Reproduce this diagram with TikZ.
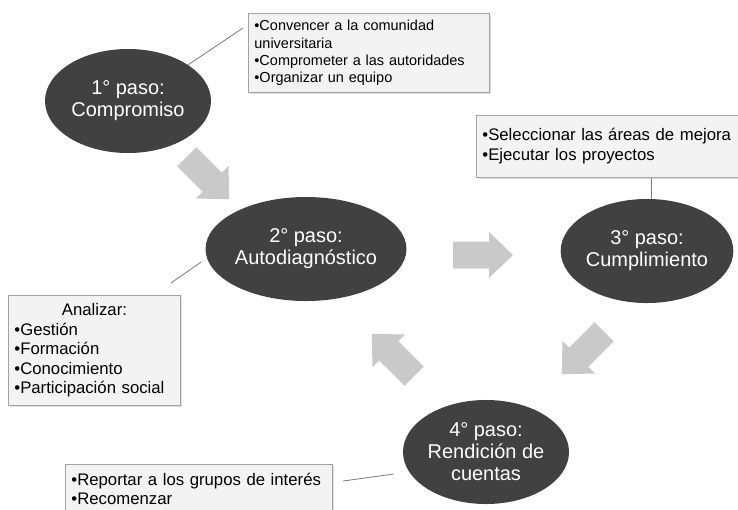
\documentclass[tikz,border=0pt]{standalone}
\usepackage{fontspec}
\setmainfont{Liberation Sans}
\usepackage{tikz}
\usetikzlibrary{positioning}
\usetikzlibrary{shapes.geometric}
\usetikzlibrary{calc}
\usetikzlibrary{shadows}
\usepackage{xcolor}

\definecolor{pasogray}{HTML}{414141}
\definecolor{flechagray}{HTML}{C9C9C9}
\definecolor{notafill}{HTML}{F3F3F3}
\definecolor{notaline}{HTML}{A3A3A3}
\definecolor{linkgray}{HTML}{7F7F7F}

\tikzset{
    paso/.style={ellipse, fill=pasogray, text=white, align=center, inner sep=0pt,
        minimum width=4.15cm, minimum height=2.6cm,
        font=\fontsize{14.2}{15.6}\selectfont},
    nota/.style={rectangle, draw=notaline, fill=notafill, anchor=north west,
        align=left, inner xsep=0.15cm, inner ysep=0.1cm, line width=0.6pt,
        drop shadow={shadow xshift=1pt, shadow yshift=-1pt, opacity=0.25}},
    link/.style={draw=linkgray, line width=0.6pt}
}

\begin{document}
\begin{tikzpicture}[x=0.025cm, y=-0.025cm]
    \useasboundingbox (0,0) rectangle (738,509);

    % pasos
    \node[paso] (e1) at (128,101) {1° paso:\\Compromiso};
    \node[paso] (e2) at (306,249) {2° paso:\\Autodiagnóstico};
    \node[paso] (e3) at (647,251) {3° paso:\\Cumplimiento};
    \node[paso] (e4) at (486,452) {4° paso:\\Rendición de\\cuentas};

    % notas
    \node[nota, text width=5.72cm, minimum height=1.98cm,
        font=\fontsize{10.3}{12.4}\selectfont] (b1) at (248,13)
        {•Convencer a la comunidad\\universitaria\\•Comprometer a las autoridades\\•Organizar un equipo};
    \node[nota, text width=6.35cm, minimum height=1.55cm,
        font=\fontsize{11.9}{14.2}\selectfont] (b2) at (476,115)
        {•Seleccionar las áreas de mejora\\•Ejecutar los proyectos};
    \node[nota, text width=4.0cm, minimum height=2.75cm,
        font=\fontsize{11.9}{13.9}\selectfont] (b3) at (8,295)
        {\centerline{Analizar:}\\•Gestión\\•Formación\\•Conocimiento\\•Participación social};
    \node[nota, text width=6.38cm, text depth=0.5cm, inner ysep=0.22cm,
        font=\fontsize{11.9}{13.5}\selectfont] (b4) at (65,464)
        {•Reportar a los grupos de interés\\•Recomenzar};

    % lineas
    \draw[link] (e1.31) -- ($(b1.north west)+(-5,15)$);
    \draw[link] (e3.85) -- (e3.85 |- b2.south);
    \draw[link] ($(e2.west)+(-4,13)$) -- ($(b3.north east)+(-10,-12)$);
    \draw[link] ($(b4.north east)+(10,17)$) -- ($(e4.west)+(-9,22)$);

    % flechas
    \foreach \x/\y/\a in {208/178/-45, 483/255/0, 583/353/-135, 393/355/135}
    {
        \fill[flechagray, shift={(\x,\y)}, rotate=\a]
            (-30,-13.5) -- (6,-13.5) -- (6,-23) -- (30,0) -- (6,23) -- (6,13.5) -- (-30,13.5) -- cycle;
    }
\end{tikzpicture}
\end{document}
